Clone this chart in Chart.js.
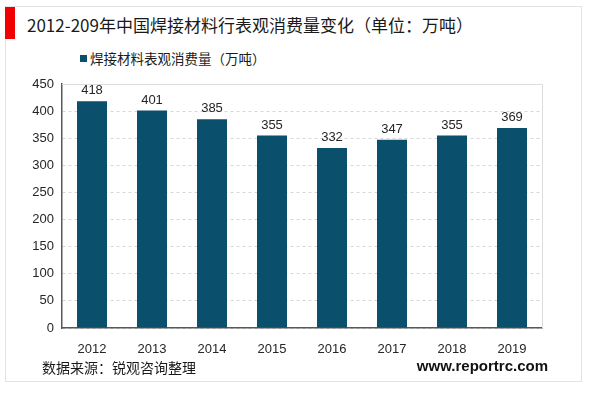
<!DOCTYPE html>
<html lang="zh">
<head>
<meta charset="utf-8">
<script src="https://cdn.jsdelivr.net/npm/chart.js@4.4.0/dist/chart.umd.min.js"></script>
<style>
    body { margin: 0; background: #fff; }
    #wrap { position: relative; width: 600px; height: 393px; overflow: hidden; }
    #frame { position: absolute; left: 5px; top: 6px; width: 577px; height: 376px; border: 1px solid #e3e3e3; box-sizing: border-box; }
    #redbar { position: absolute; left: 5px; top: 7px; width: 10px; height: 32px; background: #f00000; }
    #titulo { position: absolute; left: 27px; top: 12px; font: 17px "Noto Sans CJK SC", sans-serif; color: #1a1a1a; white-space: nowrap; }
    #leyenda { position: absolute; left: 80px; top: 48px; font: 13.5px "Noto Sans CJK SC", sans-serif; color: #1a1a1a; white-space: nowrap; }
    #leyenda span { display: inline-block; width: 7px; height: 7px; background: #0a4f6b; margin-right: 3px; vertical-align: 2px; }
    #fuente { position: absolute; left: 42px; top: 357px; font: 14px "Noto Sans CJK SC", sans-serif; color: #1a1a1a; }
    #web { position: absolute; right: 52px; top: 357px; font: bold 15px "Liberation Sans", Arial, sans-serif; color: #111; }
    canvas { position: absolute; left: 0; top: 0; }
</style>
</head>
<body>
<div id="wrap">
    <div id="frame"></div>
    <div id="redbar"></div>
    <div id="titulo">2012-209年中国焊接材料行表观消费量变化（单位：万吨）</div>
    <div id="leyenda"><span></span>焊接材料表观消费量（万吨）</div>
    <canvas id="grafica" width="600" height="393"></canvas>
    <div id="fuente">数据来源：锐观咨询整理</div>
    <div id="web">www.reportrc.com</div>
</div>
<script>
    const anios = ['2012', '2013', '2014', '2015', '2016', '2017', '2018', '2019']
    const consumo = [418, 401, 385, 355, 332, 347, 355, 369]
    const nombreSerie = '焊接材料表观消费量（万吨）'

    // numeros encima de cada barra
    const etiquetas = {
        id: 'etiquetas',
        afterDatasetsDraw(chart) {
            const ctx = chart.ctx
            const meta = chart.getDatasetMeta(0)
            ctx.save()
            ctx.font = '13px "Liberation Sans", Arial, sans-serif'
            ctx.fillStyle = '#262626'
            ctx.textAlign = 'center'
            ctx.textBaseline = 'bottom'
            meta.data.forEach((barra, i) => {
                ctx.fillText(consumo[i], barra.x, barra.y - 4)
            })
            ctx.restore()
        }
    }

    // borde claro arriba y a la derecha del area
    const marco = {
        id: 'marco',
        beforeDatasetsDraw(chart) {
            const { ctx, chartArea: a } = chart
            ctx.save()
            ctx.strokeStyle = '#dcdcdc'
            ctx.lineWidth = 1
            ctx.beginPath()
            ctx.moveTo(a.left, a.top + 0.5)
            ctx.lineTo(a.right + 0.5, a.top + 0.5)
            ctx.lineTo(a.right + 0.5, a.bottom)
            ctx.stroke()
            ctx.restore()
        }
    }

    new Chart(document.querySelector('#grafica'), {
        type: 'bar',
        data: {
            labels: anios,
            datasets: [{
                label: nombreSerie,
                data: consumo,
                backgroundColor: '#0a4f6b',
                categoryPercentage: 1,
                barPercentage: 0.5
            }]
        },
        options: {
            responsive: false,
            animation: false,
            layout: { padding: { left: 20, right: 58, top: 84, bottom: 34 } },
            plugins: { legend: { display: false }, tooltip: { enabled: false } },
            scales: {
                x: {
                    grid: { display: false },
                    border: { color: '#595959', width: 1.5 },
                    ticks: { color: '#262626', font: { size: 13, family: '"Liberation Sans", Arial' }, padding: 6 },
                    afterFit: (s) => { s.height = 31 }
                },
                y: {
                    min: 0,
                    max: 450,
                    ticks: { stepSize: 50, color: '#262626', font: { size: 13, family: '"Liberation Sans", Arial' }, padding: 8 },
                    grid: { color: '#d6d6d6', drawTicks: false },
                    border: { color: '#595959', width: 1.5, dash: [3, 3] },
                    afterFit: (s) => { s.width = 42 }
                }
            }
        },
        plugins: [etiquetas, marco]
    })
</script>
</body>
</html>
